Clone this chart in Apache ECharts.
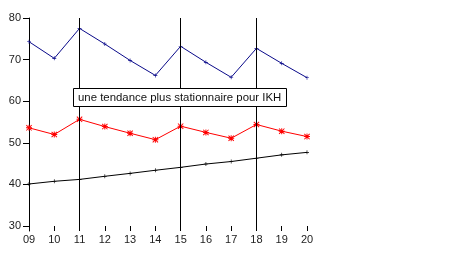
<!DOCTYPE html>
<html>
<head>
<meta charset="utf-8">
<script src="https://cdn.jsdelivr.net/npm/echarts@6/dist/echarts.min.js"></script>
<style>
html,body{margin:0;padding:0;background:#fff;}
#chart{width:449px;height:263px;}
</style>
</head>
<body>
<div id="chart"></div>
<script>
var categories = ['09','10','11','12','13','14','15','16','17','18','19','20'];
var blueSeries = [74.3, 70.3, 77.5, 73.75, 69.8, 66.2, 73.2, 69.35, 65.75, 72.7, 69.1, 65.65];
var redSeries = [53.6, 52.0, 55.65, 53.9, 52.3, 50.75, 54.0, 52.5, 51.1, 54.4, 52.8, 51.5];
var blackSeries = [40.1, 40.75, 41.2, 41.95, 42.65, 43.4, 44.1, 44.9, 45.5, 46.3, 47.1, 47.7];
var yTicks = [30, 40, 50, 60, 70, 80];
var breakLines = ['11', '15', '18'];
var annotation = 'une tendance plus stationnaire pour IKH';

var plusPath = 'path://M4.2,0H5.8V10H4.2Z M0,4.2H10V5.8H0Z';
var starPath = 'path://M4.2,0H5.8V10H4.2Z M0,4.2H10V5.8H0Z M0,1.1L1.1,0L10,8.9L8.9,10Z M8.9,0L10,1.1L1.1,10L0,8.9Z';

var chart = echarts.init(document.getElementById('chart'), null, {renderer: 'canvas'});
var font = 'Liberation Sans, Arial, sans-serif';
chart.setOption({
  animation: false,
  backgroundColor: '#fff',
  title: {
    text: annotation,
    left: 73, top: 88,
    padding: [4, 5, 4, 5],
    borderWidth: 1, borderColor: '#000', backgroundColor: '#fff',
    textStyle: {fontFamily: font, fontSize: 11.4, fontWeight: 'normal', color: '#111'}
  },
  grid: {left: 29, right: 142, top: 18, bottom: 32, containLabel: false},
  xAxis: {
    type: 'category', data: categories, boundaryGap: false,
    axisLine: {show: false},
    axisTick: {show: true, inside: true, length: 5, alignWithLabel: true, lineStyle: {color: '#000', width: 1}},
    axisLabel: {margin: 3, fontFamily: font, fontSize: 11, color: '#222'},
    splitLine: {show: false}
  },
  yAxis: {
    type: 'value', min: 28.8, max: 80,
    axisLine: {show: true, lineStyle: {color: '#000', width: 1}},
    axisTick: {show: true, length: 6, customValues: yTicks, lineStyle: {color: '#000'}},
    axisLabel: {margin: 8, fontFamily: font, fontSize: 11, color: '#222', customValues: yTicks},
    splitLine: {show: false}
  },
  series: [
    {
      type: 'line', data: blueSeries,
      lineStyle: {color: '#0a0a8a', width: 1},
      itemStyle: {color: '#0a0a8a'},
      symbol: plusPath, symbolSize: 4,
      markLine: {
        silent: true, symbol: 'none', label: {show: false},
        lineStyle: {color: '#000', width: 1, type: 'solid'},
        data: breakLines.map(function (c) { return {xAxis: c}; })
      }
    },
    {
      type: 'line', data: redSeries,
      lineStyle: {color: '#ff0000', width: 1},
      itemStyle: {color: '#ff0000'},
      symbol: starPath, symbolSize: 6
    },
    {
      type: 'line', data: blackSeries,
      lineStyle: {color: '#000', width: 1},
      itemStyle: {color: '#000'},
      symbol: plusPath, symbolSize: 4
    }
  ]
});
</script>
</body>
</html>
